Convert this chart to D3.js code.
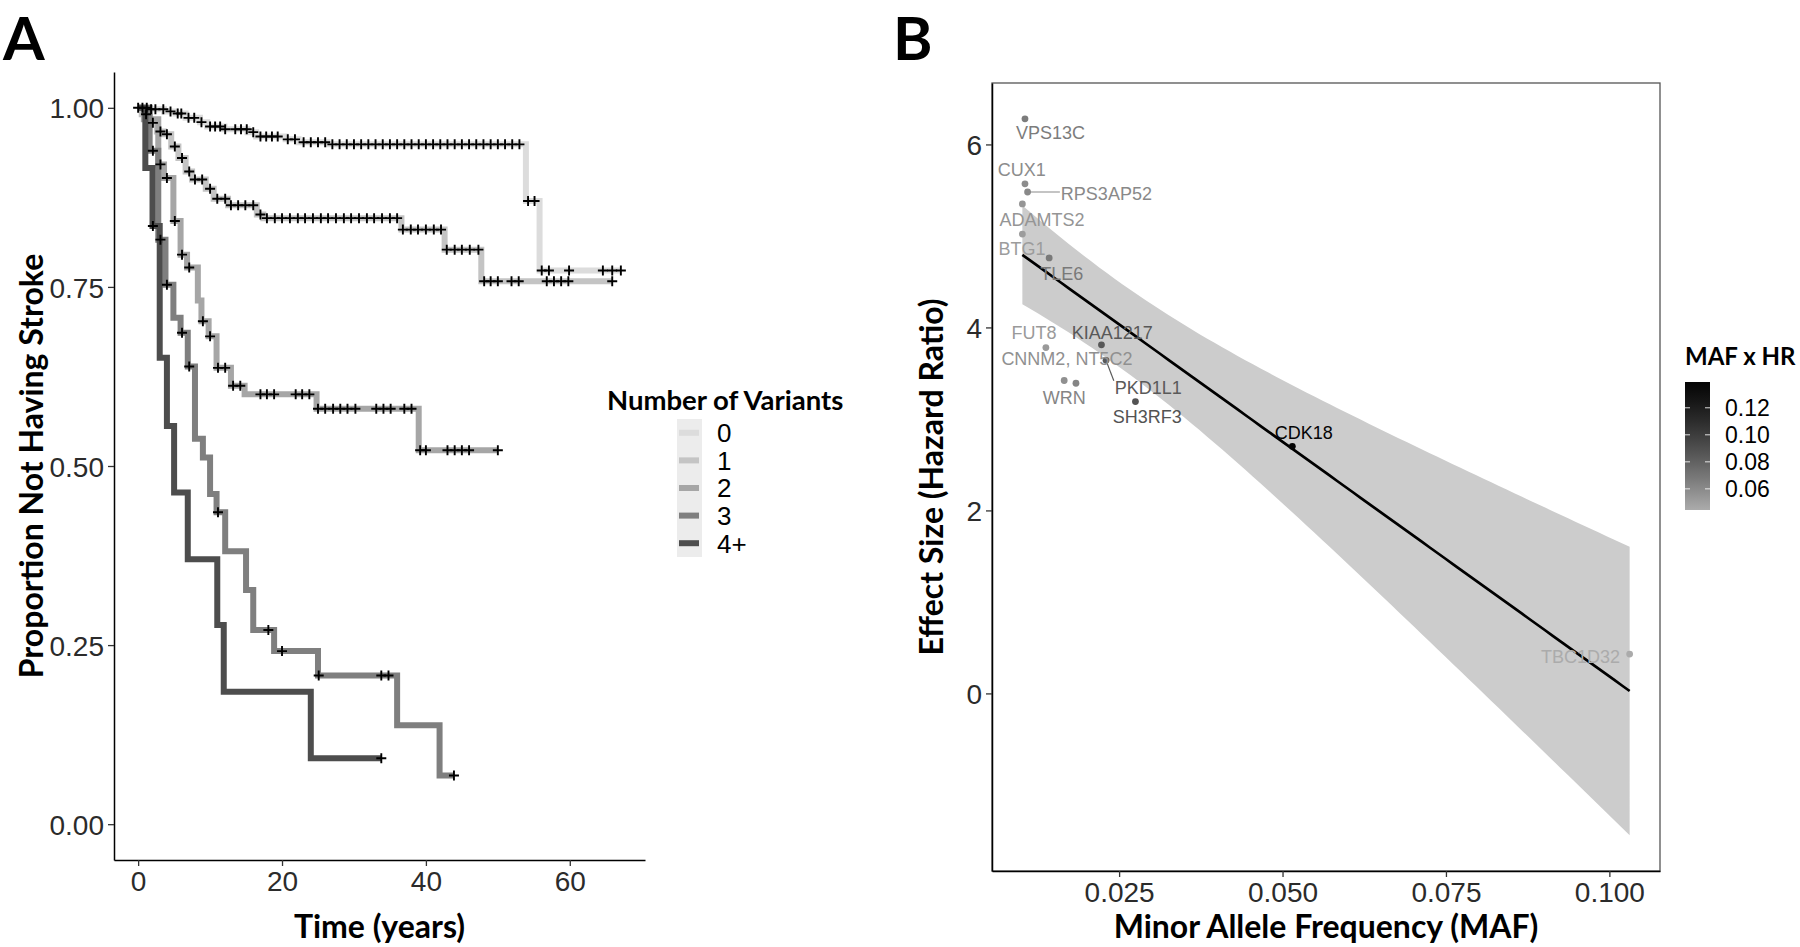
<!DOCTYPE html>
<html><head><meta charset="utf-8">
<script src="https://cdn.jsdelivr.net/npm/d3@7"></script>
<style>body{margin:0;background:#fff} svg{display:block}</style>
</head><body>
<svg id="fig" width="1800" height="947"></svg>
<script>
// ================= Panel A data (Kaplan-Meier) =================
const groups = ["0", "1", "2", "3", "4+"];
const groupColors = ["#dcdcdc", "#c4c4c4", "#a6a6a6", "#7f7f7f", "#4d4d4d"];

const times0 = [0, 1.5, 3.6, 5.2, 6.6, 8.6, 9.6, 12.0, 15.2, 16.4, 20.5, 22.3, 26.3, 53.9, 55.8];
const surv0  = [1, 0.998, 0.995, 0.992, 0.986, 0.980, 0.974, 0.970, 0.966, 0.960, 0.956, 0.952, 0.949, 0.870, 0.773];
const cens0  = [0.0, 0.6, 1.2, 1.8, 2.4, 3.5, 4.5, 5.5, 6.0, 7.0, 7.8, 8.8, 10.0, 10.7, 11.4, 12.1, 13.5, 14.3, 15.1, 16.0,
                17.0, 17.8, 18.6, 19.4, 20.8, 21.8, 23.0, 24.0, 25.0, 26.0, 27.0, 28.0, 29.0, 30.0, 31.0, 32.0, 33.0, 34.0,
                35.0, 36.0, 37.0, 38.0, 39.0, 40.0, 41.0, 42.0, 43.0, 44.0, 45.0, 46.0, 47.0, 48.0, 49.0, 50.0, 51.0, 52.0,
                53.0, 54.2, 55.1, 56.1, 57.1, 59.9, 64.6, 65.9, 67.1];
const end0 = 67.1;

const times1 = [0, 0.5, 1.6, 2.6, 3.6, 4.6, 5.6, 6.6, 7.5, 9.4, 10.5, 12.5, 16.5, 17.4, 36.6, 42.6, 47.7];
const surv1  = [1, 0.991, 0.979, 0.967, 0.963, 0.946, 0.930, 0.911, 0.900, 0.887, 0.873, 0.864, 0.851, 0.846, 0.830, 0.802, 0.758];
const cens1  = [1.1, 2.05, 3.1, 4.0, 5.1, 6.1, 7.1, 7.9, 8.9, 10.0, 11.0, 12.1, 12.9, 13.9, 14.9, 16.0, 17.0, 17.9, 19.0,
                20.0, 21.1, 22.2, 23.2, 24.3, 25.4, 26.4, 27.5, 28.6, 29.6, 30.7, 31.8, 32.8, 33.9, 35.0, 36.0, 36.8, 37.9,
                38.9, 40.0, 41.1, 42.1, 42.9, 44.0, 45.0, 46.1, 47.3, 48.1, 49.0, 50.0, 51.9, 52.9, 56.8, 57.8, 58.8, 59.8, 65.9];
const end1 = 65.9;

const times2 = [0, 0.8, 2.8, 3.6, 4.9, 5.9, 6.8, 8.3, 8.8, 9.8, 10.9, 12.9, 14.8, 24.8, 39.0];
const surv2  = [1, 0.984, 0.921, 0.902, 0.842, 0.795, 0.777, 0.731, 0.702, 0.681, 0.637, 0.612, 0.600, 0.580, 0.522];
const cens2  = [3.1, 4.0, 5.1, 6.1, 7.1, 9.0, 10.0, 11.1, 12.1, 13.2, 14.2, 17.0, 17.9, 18.9, 21.9, 22.8, 23.8, 25.0,
                26.0, 27.1, 28.1, 29.1, 30.2, 33.1, 34.1, 35.1, 37.0, 38.0, 39.2, 40.0, 43.0, 44.0, 45.0, 46.0, 50.0];
const end2 = 50.0;

const times3 = [0, 1.6, 2.8, 3.8, 4.9, 5.9, 6.9, 7.9, 9.0, 10.0, 10.9, 12.1, 15.0, 16.0, 18.9, 25.0, 36.0, 41.9];
const surv3  = [1, 0.940, 0.816, 0.753, 0.707, 0.686, 0.639, 0.538, 0.512, 0.461, 0.4355, 0.381, 0.327, 0.271, 0.2416, 0.2075, 0.138, 0.068];
const cens3  = [2.05, 3.1, 4.0, 6.1, 7.1, 11.1, 18.1, 20.0, 25.1, 33.8, 34.8, 43.9];
const end3 = 43.9;

const times4 = [0, 1.0, 2.0, 3.0, 4.0, 5.0, 6.9, 11.0, 11.9, 24.0];
const surv4  = [1, 0.916, 0.835, 0.651, 0.556, 0.463, 0.370, 0.278, 0.185, 0.092];
const cens4  = [2.05, 33.8];
const end4 = 33.8;

const kmTimes = [times0, times1, times2, times3, times4];
const kmSurv = [surv0, surv1, surv2, surv3, surv4];
const kmCens = [cens0, cens1, cens2, cens3, cens4];
const kmEnd = [end0, end1, end2, end3, end4];

const xTicksA = [0, 20, 40, 60];
const yTicksA = [0, 0.25, 0.5, 0.75, 1.0];

// ================= Panel B data =================
const genes = ["VPS13C", "CUX1", "RPS3AP52", "ADAMTS2", "BTG1", "TLE6", "FUT8", "KIAA1217", "PKD1L1",
               "CNNM2, NT5C2", "WRN", "SH3RF3", "CDK18", "TBC1D32"];
const maf = [0.0106, 0.0106, 0.0110, 0.0102, 0.0102, 0.0143, 0.0138, 0.0223, 0.0230, 0.0166, 0.0184, 0.0275, 0.0515, 0.1031];
const hr  = [6.28, 5.57, 5.48, 5.35, 5.02, 4.76, 3.78, 3.81, 3.64, 3.42, 3.39, 3.19, 2.70, 0.43];
// repelled label offsets (pixels, relative to point) and connector flags
const labelDx = [25.5, -3.2, 78.8, 19.7, -0.3, 12.7, -12, 10.7, 42.3, 2.7, -11.7, 11.7, 11.4, -49.2];
const labelDy = [20, -7.6, 7.7, 21.7, 21, 22, -8.4, -6, 33.4, -15, 21, 21, -7.4, 9];
const labelSeg = [false, false, true, false, false, false, false, false, true, false, false, false, false, false];

const xTicksB = [0.025, 0.050, 0.075, 0.100];
const yTicksB = [0, 2, 4, 6];
const legendTicksB = [0.06, 0.08, 0.10, 0.12];
const tCrit = 2.179; // qt(0.975, df = 12)

// ================= Drawing =================
const svg = d3.select("#fig");
const tickFont = "'Liberation Sans', Arial, sans-serif";
const titleFont = "Lato, 'Open Sans', sans-serif";

svg.append("text").attr("x", 3).attr("y", 60).text("A")
  .attr("font-family", titleFont).attr("font-weight", 700).attr("font-size", 60);
svg.append("text").attr("x", 893).attr("y", 60).text("B")
  .attr("font-family", titleFont).attr("font-weight", 700).attr("font-size", 60);

function styleAxis(g) {
  g.selectAll(".domain").attr("stroke", "#000").attr("stroke-width", 1.5);
  g.selectAll(".tick line").attr("stroke", "#333").attr("stroke-width", 1.3);
  g.selectAll(".tick text").attr("font-family", tickFont).attr("font-size", 28).attr("fill", "#2b2b2b");
}

// ---------- Panel A ----------
const tmaxA = d3.max(kmEnd);
const xA = d3.scaleLinear().domain([-0.05 * tmaxA, 1.05 * tmaxA]).range([114, 645]);
const yA = d3.scaleLinear().domain([-0.05, 1.05]).range([860, 72]);

const gAx = svg.append("g").attr("transform", "translate(0,860)")
  .call(d3.axisBottom(xA).tickValues(xTicksA).tickFormat(d3.format("d")).tickSize(6).tickSizeOuter(0).tickPadding(5));
styleAxis(gAx);
const gAy = svg.append("g").attr("transform", "translate(114,0)")
  .call(d3.axisLeft(yA).tickValues(yTicksA).tickFormat(d3.format(".2f")).tickSize(6).tickSizeOuter(0).tickPadding(4));
styleAxis(gAy);
gAy.selectAll(".tick text").attr("dy", "0.36em");

const stepLine = d3.line().curve(d3.curveStepAfter).x(d => xA(d[0])).y(d => yA(d[1]));
function survAt(times, surv, t) {
  let s = surv[0];
  for (let i = 0; i < times.length; i++) if (times[i] <= t) s = surv[i];
  return s;
}
groups.forEach((g, gi) => {
  const pts = kmTimes[gi].map((t, i) => [t, kmSurv[gi][i]]);
  pts.push([kmEnd[gi], kmSurv[gi][kmSurv[gi].length - 1]]);
  svg.append("path").attr("d", stepLine(pts)).attr("fill", "none")
    .attr("stroke", groupColors[gi]).attr("stroke-width", 6).attr("stroke-linejoin", "miter");
});
groups.forEach((g, gi) => {
  svg.append("g").selectAll("path").data(kmCens[gi]).join("path")
    .attr("d", t => {
      const x = xA(t), y = yA(survAt(kmTimes[gi], kmSurv[gi], t));
      return `M${x - 5},${y}h10M${x},${y - 5}v10`;
    })
    .attr("stroke", "#000").attr("stroke-width", 1.9).attr("fill", "none");
});

svg.append("text").attr("x", (114 + 645) / 2).attr("y", 938).attr("text-anchor", "middle")
  .attr("font-family", titleFont).attr("font-weight", 700).attr("font-size", 32).text("Time (years)");
svg.append("text").attr("transform", `translate(43,${(72 + 860) / 2}) rotate(-90)`).attr("text-anchor", "middle")
  .attr("font-family", titleFont).attr("font-weight", 700).attr("font-size", 32).text("Proportion Not Having Stroke");

// legend A
svg.append("text").attr("x", 607).attr("y", 410).attr("font-family", titleFont).attr("font-weight", 700)
  .attr("font-size", 27.5).text("Number of Variants");
const keyY = d3.scaleBand().domain(groups).range([419, 557]);
svg.append("rect").attr("x", 677).attr("y", 419).attr("width", 25).attr("height", 138).attr("fill", "#ececec");
groups.forEach((g, gi) => {
  const cy = keyY(g) + keyY.bandwidth() / 2;
  svg.append("line").attr("x1", 679).attr("x2", 699).attr("y1", cy).attr("y2", cy)
    .attr("stroke", groupColors[gi]).attr("stroke-width", 6);
  svg.append("text").attr("x", 717).attr("y", cy).attr("dy", "0.36em").attr("font-family", tickFont)
    .attr("font-size", 26).text(g);
});

// ---------- Panel B ----------
const n = maf.length;
const xbar = d3.mean(maf), ybar = d3.mean(hr);
const Sxx = d3.sum(maf, v => (v - xbar) ** 2);
const Sxy = d3.sum(maf.map((v, i) => (v - xbar) * (hr[i] - ybar)));
const slope = Sxy / Sxx, intercept = ybar - slope * xbar;
const sse = d3.sum(maf.map((v, i) => (hr[i] - intercept - slope * v) ** 2));
const sres = Math.sqrt(sse / (n - 2));
const xmin = d3.min(maf), xmax = d3.max(maf);
const grid = d3.range(80).map(i => xmin + i * (xmax - xmin) / 79);
const band = grid.map(x => {
  const fit = intercept + slope * x;
  const se = sres * Math.sqrt(1 / n + (x - xbar) ** 2 / Sxx);
  return {x, fit, lo: fit - tCrit * se, hi: fit + tCrit * se};
});

const yLo = Math.min(d3.min(band, d => d.lo), d3.min(hr));
const yHi = Math.max(d3.max(band, d => d.hi), d3.max(hr));
const xB = d3.scaleLinear().domain([xmin - 0.05 * (xmax - xmin), xmax + 0.05 * (xmax - xmin)]).range([992, 1660]);
const yB = d3.scaleLinear().domain([yLo - 0.05 * (yHi - yLo), yHi + 0.05 * (yHi - yLo)]).range([871, 83]);

const prod = maf.map((v, i) => v * hr[i]);
const cExt = d3.extent(prod);
const colour = d3.scaleLinear().domain(cExt).range(["#ababab", "#050505"]).interpolate(d3.interpolateRgb.gamma(0.77));

// panel border
svg.append("rect").attr("x", 992).attr("y", 83).attr("width", 668).attr("height", 788)
  .attr("fill", "none").attr("stroke", "#555").attr("stroke-width", 1.3);

svg.append("path").datum(band)
  .attr("d", d3.area().x(d => xB(d.x)).y0(d => yB(d.lo)).y1(d => yB(d.hi)))
  .attr("fill", "#cccccc");
svg.append("path").datum(band)
  .attr("d", d3.line().x(d => xB(d.x)).y(d => yB(d.fit)))
  .attr("fill", "none").attr("stroke", "#000").attr("stroke-width", 2.7);

const gBx = svg.append("g").attr("transform", "translate(0,871)")
  .call(d3.axisBottom(xB).tickValues(xTicksB).tickFormat(d3.format(".3f")).tickSize(6).tickSizeOuter(0).tickPadding(5));
styleAxis(gBx);
const gBy = svg.append("g").attr("transform", "translate(992,0)")
  .call(d3.axisLeft(yB).tickValues(yTicksB).tickFormat(d3.format("d")).tickSize(6).tickSizeOuter(0).tickPadding(4));
styleAxis(gBy);
gBy.selectAll(".tick text").attr("dy", "0.36em");

// points
svg.append("g").selectAll("circle").data(genes).join("circle")
  .attr("cx", (d, i) => xB(maf[i])).attr("cy", (d, i) => yB(hr[i])).attr("r", 3.4)
  .attr("fill", (d, i) => colour(prod[i]));

// labels
const labG = svg.append("g");
genes.forEach((gname, i) => {
  const px = xB(maf[i]), py = yB(hr[i]);
  const t = labG.append("text").attr("x", px + labelDx[i]).attr("y", py + labelDy[i])
    .attr("text-anchor", "middle").attr("font-family", tickFont).attr("font-size", 18)
    .attr("fill", colour(prod[i])).text(gname);
  if (labelSeg[i]) {
    const bb = t.node().getBBox();
    const ex = Math.max(bb.x, Math.min(px, bb.x + bb.width));
    const ey = Math.max(bb.y + 3, Math.min(py, bb.y + bb.height - 3));
    labG.insert("line", "text").attr("x1", px).attr("y1", py).attr("x2", ex - 1).attr("y2", ey)
      .attr("stroke", colour(prod[i])).attr("stroke-width", 1.2);
  }
});

svg.append("text").attr("x", (992 + 1660) / 2).attr("y", 938).attr("text-anchor", "middle")
  .attr("font-family", titleFont).attr("font-weight", 700).attr("font-size", 32).text("Minor Allele Frequency (MAF)");
svg.append("text").attr("transform", `translate(943,${(83 + 871) / 2}) rotate(-90)`).attr("text-anchor", "middle")
  .attr("font-family", titleFont).attr("font-weight", 700).attr("font-size", 32).text("Effect Size (Hazard Ratio)");

// colourbar legend
svg.append("text").attr("x", 1685).attr("y", 365).attr("font-family", titleFont).attr("font-weight", 700)
  .attr("font-size", 24).text("MAF x HR");
const barY = d3.scaleLinear().domain(cExt).range([510, 382]);
const grad = svg.append("defs").append("linearGradient").attr("id", "cbar")
  .attr("x1", 0).attr("y1", 1).attr("x2", 0).attr("y2", 0);
d3.range(21).forEach(k => {
  grad.append("stop").attr("offset", k / 20).attr("stop-color", colour(cExt[0] + (cExt[1] - cExt[0]) * k / 20));
});
svg.append("rect").attr("x", 1685).attr("y", 382).attr("width", 25).attr("height", 128).attr("fill", "url(#cbar)");
legendTicksB.forEach(v => {
  const y = barY(v);
  svg.append("line").attr("x1", 1685).attr("x2", 1690).attr("y1", y).attr("y2", y).attr("stroke", "#fff").attr("stroke-opacity", 0.7).attr("stroke-width", 1.2);
  svg.append("line").attr("x1", 1705).attr("x2", 1710).attr("y1", y).attr("y2", y).attr("stroke", "#fff").attr("stroke-opacity", 0.7).attr("stroke-width", 1.2);
  svg.append("text").attr("x", 1725).attr("y", y).attr("dy", "0.36em").attr("font-family", tickFont)
    .attr("font-size", 23).text(d3.format(".2f")(v));
});
</script>
</body></html>
